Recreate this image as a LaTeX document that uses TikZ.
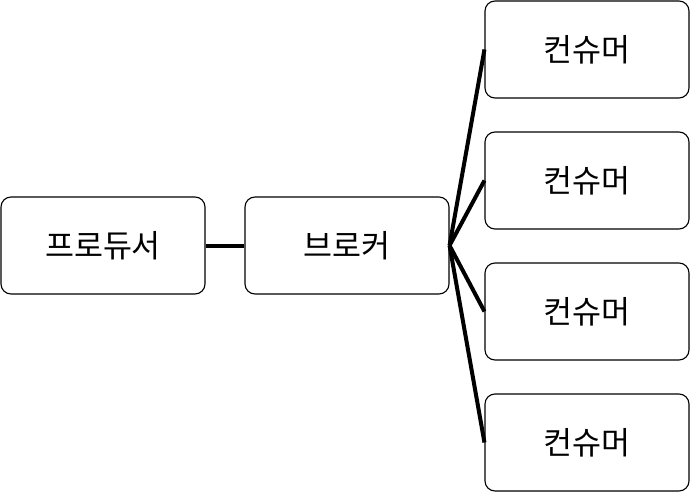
\documentclass[tikz,border=0pt]{standalone}
\usepackage{fontspec}
\newfontfamily\kr{Noto Sans CJK KR}
\begin{document}
\begin{tikzpicture}[x=1pt,y=-1pt,
  box/.style={draw=black,line width=1.1pt,rounded corners=10pt,fill=white,
    minimum width=204pt,minimum height=97pt,inner sep=0pt,
    font=\kr\fontsize{31.5}{36}\selectfont},
  link/.style={draw=black,line width=4pt}]
\useasboundingbox (0,0) rectangle (690,492);
\node[box] (p) at (103,245.5) {프로듀서};
\node[box] (b) at (347,245.5) {브로커};
\node[box] (c1) at (587,49.5) {컨슈머};
\node[box] (c2) at (587,180.5) {컨슈머};
\node[box] (c3) at (587,311.5) {컨슈머};
\node[box] (c4) at (587,442.5) {컨슈머};
\draw[link] (p.east) -- (b.west);
\foreach \c in {c1,c2,c3,c4}
  \draw[link] (b.east) -- (\c.west);
\end{tikzpicture}
\end{document}
